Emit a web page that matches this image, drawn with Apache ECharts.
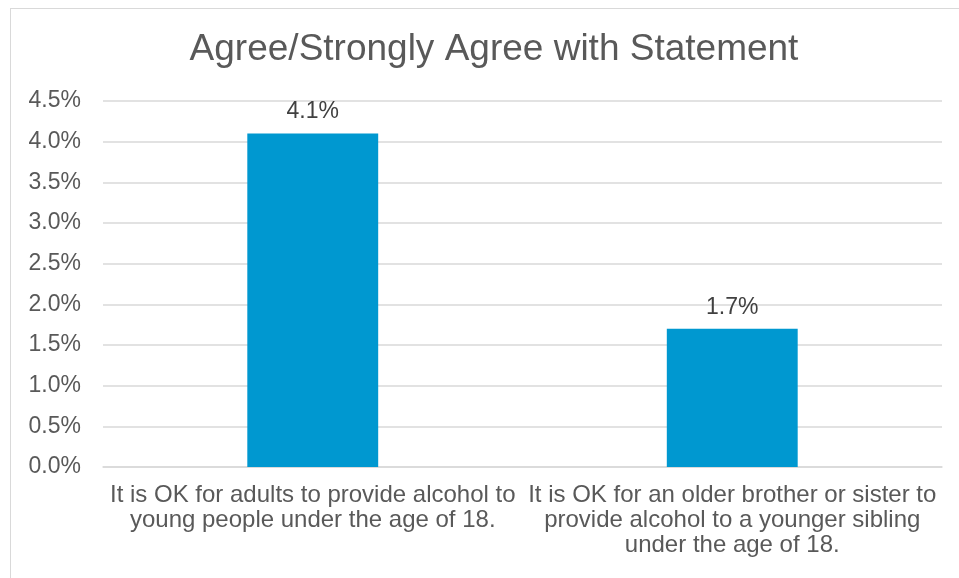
<!DOCTYPE html>
<html>
<head>
<meta charset="utf-8">
<script src="https://cdn.jsdelivr.net/npm/echarts@6/dist/echarts.min.js"></script>
<style>
html,body{margin:0;padding:0;background:#fff;}
#frame{position:absolute;left:10px;top:8px;width:960px;height:580px;border:1px solid #d9d9d9;box-sizing:border-box;}
#chart{width:959px;height:578px;position:absolute;left:0;top:0;}
</style>
</head>
<body>
<div id="frame"></div>
<div id="chart"></div>
<script>
const title = 'Agree/Strongly Agree with Statement';
const categories = [
  'It is OK for adults to provide alcohol to\nyoung people under the age of 18.',
  'It is OK for an older brother or sister to\nprovide alcohol to a younger sibling\nunder the age of 18.'
];
const values = [4.1, 1.7];
const yTicks = { min: 0, max: 4.5, interval: 0.5 };

const chart = echarts.init(document.getElementById('chart'), null, {renderer: 'canvas'});
const font = 'Liberation Sans, Arial, sans-serif';
chart.setOption({
  animation: false,
  title: {
    text: title,
    left: 489,
    textAlign: 'center',
    top: 26,
    textStyle: {fontFamily: font, fontSize: 37, fontWeight: 'normal', color: '#595959'}
  },
  grid: {left: 103, right: 17, top: 101, bottom: 111, containLabel: false},
  xAxis: {
    type: 'category',
    data: categories,
    axisTick: {show: false},
    axisLine: {lineStyle: {color: '#d9d9d9', width: 1.5}},
    axisLabel: {
      interval: 0,
      margin: 16,
      fontFamily: font, fontSize: 24, color: '#595959', lineHeight: 25, align: 'center'
    }
  },
  yAxis: {
    type: 'value',
    min: yTicks.min, max: yTicks.max, interval: yTicks.interval,
    axisLine: {show: false},
    axisTick: {show: false},
    splitLine: {lineStyle: {color: '#d9d9d9', width: 1.5}},
    axisLabel: {
      margin: 22,
      fontFamily: font, fontSize: 23, color: '#595959',
      formatter: v => v.toFixed(1) + '%'
    }
  },
  series: [{
    type: 'bar',
    data: values,
    barWidth: '31.2%',
    itemStyle: {color: '#0098D0'},
    label: {
      show: true, position: 'top', distance: 10,
      fontFamily: font, fontSize: 23, color: '#404040',
      formatter: p => p.value.toFixed(1) + '%'
    }
  }]
});
</script>
</body>
</html>
